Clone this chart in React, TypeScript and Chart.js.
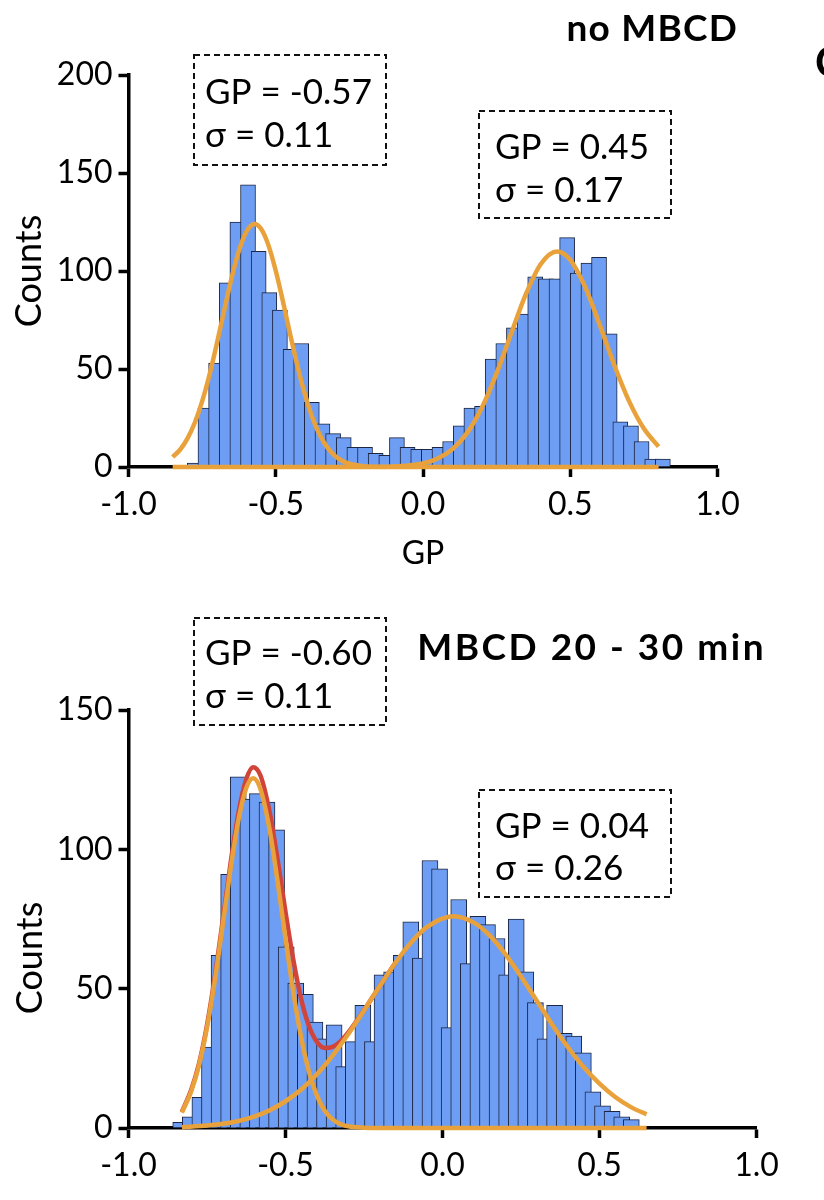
import { useEffect, useRef } from "react";
import Chart from "chart.js/auto";

const FONT = "Lato, 'Noto Sans', sans-serif";
const BAR_FILL = "#6D9EF4";
const BAR_EDGE = "#1C2541";
const ORANGE = "#E9A23B";
const RED = "#D0443A";

// histogram bins: centre of the first bar and bin step (GP units)
const TOP_FIRST_BIN = -0.7748;
const TOP_BIN_STEP = 0.03612;
const topCounts = [
  2, 30, 53, 94, 125, 144, 110, 89, 80, 60, 63, 33, 22, 17, 15, 10, 10, 7, 6, 15, 10, 9, 9,
  10, 13, 21, 30, 31, 55, 63, 71, 78, 97, 96, 96, 117, 99, 104, 107, 68, 23, 21, 13, 4, 4,
];

const BOTTOM_FIRST_BIN = -0.8337;
const BOTTOM_BIN_STEP = 0.03053;
const bottomCounts = [
  2, 4, 11, 29, 62, 91, 126, 118, 120, 117, 107, 65, 52, 48, 38, 32, 37, 22, 31, 44, 31, 55,
  56, 62, 74, 61, 96, 93, 36, 82, 59, 76, 73, 68, 55, 75, 56, 45, 32, 44, 34, 33, 27, 13, 8,
  6, 4, 3,
];

// fitted curves
const topLeftFitX = [
  -0.85, -0.825, -0.8, -0.775, -0.75, -0.725, -0.7, -0.675, -0.65, -0.625, -0.6, -0.572, -0.55,
  -0.525, -0.5, -0.475, -0.45, -0.425, -0.4, -0.375, -0.35, -0.325, -0.3, -0.275, -0.25, -0.2,
  -0.15, -0.1, 0, 0.4, 0.8,
];
const topLeftFitY = [
  5.1, 8.8, 14.5, 22.6, 33.5, 47.1, 63.0, 80.0, 96.4, 110.4, 120.0, 124.0, 121.5, 113.2, 100.1,
  84.1, 67.0, 50.8, 36.5, 24.9, 16.2, 10.0, 5.8, 3.2, 1.7, 0.4, 0.1, 0, 0, 0, 0,
];
const topRightFitX = [
  -0.85, -0.4, -0.2, -0.1, 0, 0.05, 0.1, 0.15, 0.2, 0.25, 0.3, 0.35, 0.4, 0.455, 0.5, 0.55, 0.6,
  0.65, 0.7, 0.75, 0.8,
];
const topRightFitY = [
  0, 0, 0, 0.3, 1.8, 4.3, 9.1, 17.4, 30.3, 47.9, 68.4, 88.4, 103.6, 110, 105.7, 92.0, 72.5, 51.8,
  33.5, 19.6, 10.4,
];

const bottomLeftFitX = [
  -0.83, -0.8, -0.775, -0.75, -0.725, -0.7, -0.675, -0.65, -0.625, -0.603, -0.58, -0.55, -0.525,
  -0.5, -0.475, -0.45, -0.425, -0.4, -0.375, -0.35, -0.325, -0.3, -0.25, -0.2, -0.1, 0.2, 0.65,
];
const bottomLeftFitY = [
  5.5, 13.3, 22.7, 36.0, 53.1, 72.9, 93.0, 110.5, 122.0, 125.5, 121.7, 106.7, 88.3, 68.0, 48.7,
  32.4, 20.1, 11.6, 6.2, 3.1, 1.4, 0.6, 0.1, 0, 0, 0, 0,
];
const bottomRightFitX = [
  -0.83, -0.75, -0.7, -0.65, -0.6, -0.55, -0.5, -0.45, -0.4, -0.35, -0.3, -0.25, -0.2, -0.15,
  -0.1, -0.05, 0.035, 0.1, 0.15, 0.2, 0.25, 0.3, 0.35, 0.4, 0.45, 0.5, 0.55, 0.6, 0.65,
];
const bottomRightFitY = [
  0.3, 0.9, 1.5, 2.5, 4.1, 6.4, 9.6, 13.8, 19.3, 26.0, 33.7, 42.2, 50.9, 59.3, 66.6, 72.1, 76.0,
  73.7, 69.1, 62.4, 54.4, 45.7, 37.0, 28.9, 21.8, 15.9, 11.1, 7.5, 4.9,
];
const bottomSumFitX = [
  -0.83, -0.8, -0.775, -0.75, -0.725, -0.7, -0.675, -0.65, -0.625, -0.603, -0.58, -0.55, -0.525,
  -0.5, -0.475, -0.45, -0.425, -0.4, -0.375, -0.35, -0.325, -0.3, -0.25, -0.2, -0.15,
];
const bottomSumFitY = [
  5.8, 13.8, 23.3, 36.9, 54.3, 74.4, 95.0, 113.0, 125.2, 129.5, 126.6, 113.1, 96.2, 77.6, 60.3,
  46.2, 36.5, 30.9, 28.7, 29.1, 31.1, 34.3, 42.3, 50.9, 59.3,
];

const topLabels = { title: "no MBCD", left: ["GP = -0.57", "σ = 0.11"], right: ["GP = 0.45", "σ = 0.17"] };
const bottomLabels = {
  title: "MBCD 20 - 30 min",
  left: ["GP = -0.60", "σ = 0.11"],
  right: ["GP = 0.04", "σ = 0.26"],
};

const pts = (xs: number[], ys: number[]) => xs.map((x, i) => ({ x, y: ys[i] }));

const fitLine = (xs: number[], ys: number[], color: string, order: number) => ({
  type: "line" as const,
  data: pts(xs, ys),
  borderColor: color,
  borderWidth: 4.5,
  pointRadius: 0,
  cubicInterpolationMode: "monotone" as const,
  fill: false,
  clip: false as const,
  order,
});

const bars = (counts: number[], first: number, step: number, thickness: number) => ({
  type: "bar" as const,
  data: counts.map((y, i) => ({ x: first + i * step, y })),
  backgroundColor: BAR_FILL,
  borderColor: BAR_EDGE,
  borderWidth: 1,
  barThickness: thickness,
  grouped: false,
  order: 5,
});

type Box = { rect: [number, number, number, number]; lines: string[]; x: number; baselines: number[] };

const overlay = (
  title: string,
  titleRight: number,
  titleBase: number,
  spacing: number,
  boxes: Box[],
  extra?: (ctx: CanvasRenderingContext2D) => void
) => ({
  id: "overlay",
  afterDraw(chart: Chart) {
    const ctx = chart.ctx as any;
    ctx.save();
    ctx.fillStyle = "#000";
    ctx.textBaseline = "alphabetic";
    ctx.font = `bold 37px ${FONT}`;
    ctx.letterSpacing = `${spacing}px`;
    ctx.textAlign = "right";
    ctx.fillText(title, titleRight, titleBase);
    ctx.letterSpacing = "0px";
    ctx.textAlign = "left";
    boxes.forEach((b) => {
      ctx.strokeStyle = "#111";
      ctx.lineWidth = 2;
      ctx.setLineDash([6, 4]);
      ctx.strokeRect(b.rect[0], b.rect[1], b.rect[2], b.rect[3]);
      ctx.setLineDash([]);
      ctx.font = `35px ${FONT}`;
      b.lines.forEach((t, i) => ctx.fillText(t, b.x, b.baselines[i]));
    });
    if (extra) extra(ctx);
    ctx.restore();
  },
});

const axes = (yMax: number, xHeight: number, showXTitle: boolean, showYTitle: boolean) => {
  const grid = {
    display: true,
    drawOnChartArea: false,
    drawTicks: true,
    tickLength: 10,
    tickWidth: 3.5,
    tickColor: "#000",
    offset: false,
  };
  const border = { display: true, color: "#000", width: 3.5 };
  return {
    x: {
      type: "linear" as const,
      min: -1,
      max: 1,
      offset: false,
      grid,
      border,
      ticks: {
        stepSize: 0.5,
        color: "#000",
        font: { family: FONT, size: 32 },
        padding: 8,
        maxRotation: 0,
        callback: (v: number | string) => Number(v).toFixed(1),
      },
      title: {
        display: showXTitle,
        text: "GP",
        color: "#000",
        font: { family: FONT, size: 32 },
        padding: { top: 0, bottom: 4 },
      },
      afterFit: (s: any) => {
        s.height = xHeight;
      },
    },
    y: {
      type: "linear" as const,
      min: 0,
      max: yMax,
      grid,
      border,
      ticks: { stepSize: 50, color: "#000", font: { family: FONT, size: 32 }, padding: 6 },
      title: {
        display: showYTitle,
        text: "Counts",
        color: "#000",
        font: { family: FONT, size: 36 },
        padding: { top: 8, bottom: 0 },
      },
      afterFit: (s: any) => {
        s.width = 128.5;
      },
    },
  };
};

const App = () => {
  const topRef = useRef<HTMLCanvasElement>(null);
  const bottomRef = useRef<HTMLCanvasElement>(null);

  useEffect(() => {
    if (!topRef.current || !bottomRef.current) return;

    const top = new Chart(topRef.current, {
      type: "bar",
      data: {
        datasets: [
          fitLine(topLeftFitX, topLeftFitY, ORANGE, 1),
          fitLine(topRightFitX, topRightFitY, ORANGE, 1),
          bars(topCounts, TOP_FIRST_BIN, TOP_BIN_STEP, 15),
        ] as any,
      },
      options: {
        responsive: false,
        animation: false,
        layout: { padding: { left: 0, right: 106.5, top: 75, bottom: 23 } },
        plugins: { legend: { display: false }, tooltip: { enabled: false } },
        scales: axes(200, 110, true, true) as any,
      },
      plugins: [
        overlay(
          topLabels.title,
          738,
          41,
          1.2,
          [
            { rect: [194, 55, 192, 110], lines: topLabels.left, x: 205, baselines: [104, 147] },
            { rect: [479, 111, 192, 107], lines: topLabels.right, x: 495, baselines: [159, 202] },
          ],
          (ctx) => {
            ctx.font = `bold 42px ${FONT}`;
            ctx.fillText("C", 815, 77);
          }
        ),
      ],
    });

    const bottom = new Chart(bottomRef.current, {
      type: "bar",
      data: {
        datasets: [
          fitLine(bottomLeftFitX, bottomLeftFitY, ORANGE, 1),
          fitLine(bottomRightFitX, bottomRightFitY, ORANGE, 1),
          fitLine(bottomSumFitX, bottomSumFitY, RED, 3),
          bars(bottomCounts, BOTTOM_FIRST_BIN, BOTTOM_BIN_STEP, 16),
        ] as any,
      },
      options: {
        responsive: false,
        animation: false,
        layout: { padding: { left: 0, right: 67.5, top: 110, bottom: 0 } },
        plugins: { legend: { display: false }, tooltip: { enabled: false } },
        scales: axes(150, 72, false, false) as any,
      },
      plugins: [
        overlay(
          bottomLabels.title,
          766,
          60,
          2.5,
          [
            { rect: [194, 18, 192, 107], lines: bottomLabels.left, x: 205, baselines: [65, 108] },
            { rect: [479, 190, 192, 107], lines: bottomLabels.right, x: 495, baselines: [238, 280] },
          ],
          (ctx) => {
            // y-axis title sits lower than the axis centre in this panel
            ctx.save();
            ctx.translate(30, 358);
            ctx.rotate(-Math.PI / 2);
            ctx.font = `36px ${FONT}`;
            ctx.textAlign = "center";
            ctx.textBaseline = "middle";
            ctx.fillText("Counts", 0, 0);
            ctx.restore();
          }
        ),
      ],
    });

    return () => {
      top.destroy();
      bottom.destroy();
    };
  }, []);

  return (
    <div style={{ position: "absolute", left: 0, top: 0, width: 824, height: 1200, background: "#fff" }}>
      <canvas ref={topRef} width={824} height={600} style={{ position: "absolute", left: 0, top: 0 }} />
      <canvas ref={bottomRef} width={824} height={600} style={{ position: "absolute", left: 0, top: 600 }} />
    </div>
  );
};

export default App;
